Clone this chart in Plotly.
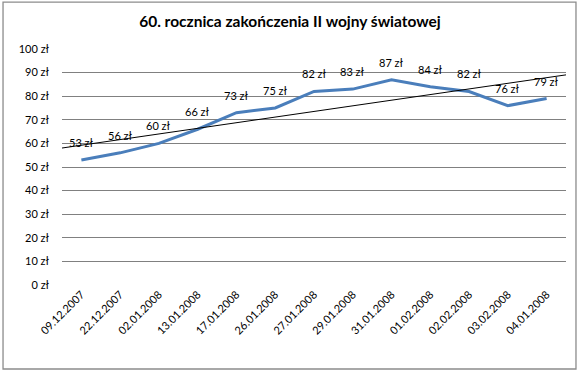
import numpy as np
import plotly.graph_objects as go

dates = ["09.12.2007", "22.12.2007", "02.01.2008", "13.01.2008", "17.01.2008",
         "26.01.2008", "27.01.2008", "29.01.2008", "31.01.2008", "01.02.2008",
         "02.02.2008", "03.02.2008", "04.01.2008"]
prices = [53, 56, 60, 66, 73, 75, 82, 83, 87, 84, 82, 76, 79]
y_ticks = [0, 10, 20, 30, 40, 50, 60, 70, 80, 90, 100]
title = "60. rocznica zakończenia II wojny światowej"

FONT = "Lato"
idx = np.arange(len(prices))
slope, intercept = np.polyfit(idx, prices, 1)
tx = np.array([-0.5, len(prices) - 0.5])
ty = slope * tx + intercept

fig = go.Figure()
fig.add_trace(go.Scatter(x=idx, y=prices, mode="lines",
                         line=dict(color="#4A7EBB", width=3),
                         hoverinfo="skip", showlegend=False))
fig.add_trace(go.Scatter(x=tx, y=ty, mode="lines",
                         line=dict(color="#000000", width=1),
                         hoverinfo="skip", showlegend=False))

for i, v in zip(idx, prices):
    fig.add_annotation(x=i, y=v, text=f"{v} zł", showarrow=False,
                       yanchor="bottom", yshift=9,
                       font=dict(family=FONT, size=11, color="#000000"))

fig.add_shape(type="rect", xref="paper", yref="paper",
              x0=-0.117, x1=1.0198, y0=-0.356, y1=1.199,
              line=dict(color="#8C8C8C", width=1.3))

fig.update_layout(
    width=580, height=373,
    margin=dict(l=62, r=14, t=49, b=88),
    paper_bgcolor="white", plot_bgcolor="white",
    title=dict(text=f"<b>{title}</b>", x=0.5, xanchor="center",
               y=1 - 22 / 373, yanchor="middle",
               font=dict(family=FONT, size=15.5, color="#000000")),
    xaxis=dict(range=[-0.5, len(prices) - 0.5], tickmode="array",
               tickvals=list(idx), ticktext=dates, tickangle=-45,
               showgrid=False, zeroline=False, showline=False,
               ticks="", tickfont=dict(family=FONT, size=11, color="#000000")),
    yaxis=dict(range=[0, 100], tickmode="array", tickvals=y_ticks,
               ticktext=[f"{t} zł" for t in y_ticks],
               showgrid=True, gridcolor="#808080", gridwidth=1,
               zeroline=False, showline=False, ticks="",
               ticklabelstandoff=12,
               tickfont=dict(family=FONT, size=11, color="#000000")),
)

fig.write_html("out.html",
               config={"displayModeBar": False, "staticPlot": True},
               post_script="document.body.style.margin='0';document.body.style.padding='0';")
